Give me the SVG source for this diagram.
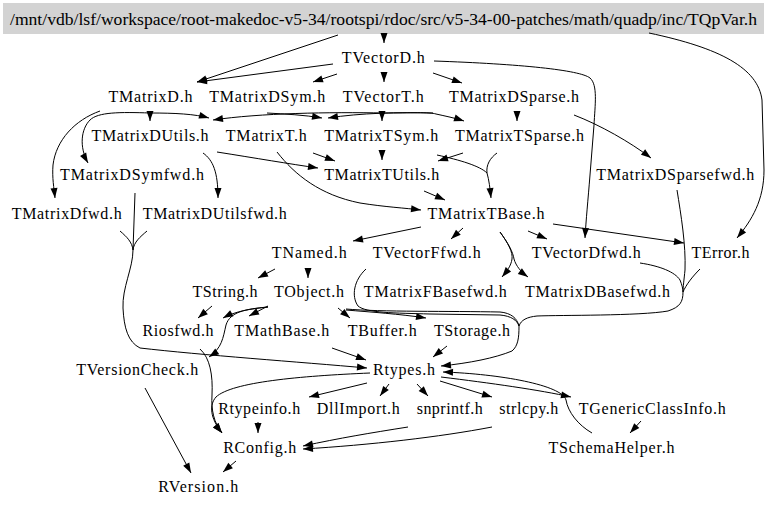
<svg xmlns="http://www.w3.org/2000/svg" width="768" height="510" viewBox="0 0 768 510">
<style>
text{font-family:"Liberation Serif","Times New Roman",serif;font-size:16px;fill:#000;text-anchor:middle}
.e path{fill:none;stroke:#000;stroke-width:1}
.a{marker-end:url(#ah)}
</style>
<defs>
<marker id="ah" markerUnits="userSpaceOnUse" markerWidth="10" markerHeight="8" refX="10" refY="3.5" orient="auto" overflow="visible">
<path d="M0,0 L10,3.5 L0,7 z" fill="#000"/>
</marker>
</defs>
<rect width="768" height="510" fill="#fff"/>
<g id="n_TQpVar"><rect x="3" y="3" width="761" height="31" fill="#d3d3d3"/><text x="383.5" y="25" textLength="747" lengthAdjust="spacingAndGlyphs">/mnt/vdb/lsf/workspace/root-makedoc-v5-34/rootspi/rdoc/src/v5-34-00-patches/math/quadp/inc/TQpVar.h</text></g>
<g id="n_TVectorD"><text x="383.3" y="63" textLength="83">TVectorD.h</text></g>
<g id="n_TMatrixD"><text x="150.5" y="102" textLength="84">TMatrixD.h</text></g>
<g id="n_TMatrixDSym"><text x="267.2" y="102" textLength="116">TMatrixDSym.h</text></g>
<g id="n_TVectorT"><text x="383.3" y="102" textLength="81">TVectorT.h</text></g>
<g id="n_TMatrixDSparse"><text x="514" y="102" textLength="130">TMatrixDSparse.h</text></g>
<g id="n_TMatrixDUtils"><text x="150" y="141" textLength="117">TMatrixDUtils.h</text></g>
<g id="n_TMatrixT"><text x="266.3" y="141" textLength="81">TMatrixT.h</text></g>
<g id="n_TMatrixTSym"><text x="381.2" y="141" textLength="114">TMatrixTSym.h</text></g>
<g id="n_TMatrixTSparse"><text x="519.5" y="141" textLength="129">TMatrixTSparse.h</text></g>
<g id="n_TMatrixDSymfwd"><text x="132" y="180" textLength="144">TMatrixDSymfwd.h</text></g>
<g id="n_TMatrixTUtils"><text x="381.7" y="180" textLength="115">TMatrixTUtils.h</text></g>
<g id="n_TMatrixDSparsefwd"><text x="675.2" y="180" textLength="158">TMatrixDSparsefwd.h</text></g>
<g id="n_TMatrixDfwd"><text x="66.7" y="219" textLength="110">TMatrixDfwd.h</text></g>
<g id="n_TMatrixDUtilsfwd"><text x="214.7" y="219" textLength="144">TMatrixDUtilsfwd.h</text></g>
<g id="n_TMatrixTBase"><text x="486" y="219" textLength="117">TMatrixTBase.h</text></g>
<g id="n_TNamed"><text x="309.2" y="258" textLength="75">TNamed.h</text></g>
<g id="n_TVectorFfwd"><text x="426.7" y="258" textLength="108">TVectorFfwd.h</text></g>
<g id="n_TVectorDfwd"><text x="586.2" y="258" textLength="109">TVectorDfwd.h</text></g>
<g id="n_TError"><text x="720.5" y="258" textLength="58">TError.h</text></g>
<g id="n_TString"><text x="225" y="297" textLength="65">TString.h</text></g>
<g id="n_TObject"><text x="309" y="297" textLength="70">TObject.h</text></g>
<g id="n_TMatrixFBasefwd"><text x="435.3" y="297" textLength="143">TMatrixFBasefwd.h</text></g>
<g id="n_TMatrixDBasefwd"><text x="597.5" y="297" textLength="145">TMatrixDBasefwd.h</text></g>
<g id="n_Riosfwd"><text x="178" y="336" textLength="71">Riosfwd.h</text></g>
<g id="n_TMathBase"><text x="281.8" y="336" textLength="95">TMathBase.h</text></g>
<g id="n_TBuffer"><text x="382.2" y="336" textLength="69">TBuffer.h</text></g>
<g id="n_TStorage"><text x="472" y="336" textLength="76">TStorage.h</text></g>
<g id="n_TVersionCheck"><text x="137.2" y="375" textLength="122">TVersionCheck.h</text></g>
<g id="n_Rtypes"><text x="404" y="375" textLength="62">Rtypes.h</text></g>
<g id="n_Rtypeinfo"><text x="259.2" y="414" textLength="82">Rtypeinfo.h</text></g>
<g id="n_DllImport"><text x="358.3" y="414" textLength="83">DllImport.h</text></g>
<g id="n_snprintf"><text x="449.7" y="414" textLength="66">snprintf.h</text></g>
<g id="n_strlcpy"><text x="528.8" y="414" textLength="59">strlcpy.h</text></g>
<g id="n_TGenericClassInfo"><text x="652.3" y="414" textLength="147">TGenericClassInfo.h</text></g>
<g id="n_RConfig"><text x="259.7" y="453" textLength="73">RConfig.h</text></g>
<g id="n_TSchemaHelper"><text x="611.5" y="453" textLength="126">TSchemaHelper.h</text></g>
<g id="n_RVersion"><text x="198.3" y="492" textLength="80">RVersion.h</text></g>
<g id="edges" class="e">
<path class="a" d="M384,34 L384,43"/>
<path class="a" d="M338,35 L197,82"/>
<path class="a" d="M649,33 C720,48 758,68 762,100 L764,170 C764,200 752,220 737,238"/>
<path class="a" d="M333,64 L197,82"/>
<path class="a" d="M337,74 L313,82"/>
<path class="a" d="M384,72 L384,82"/>
<path class="a" d="M433,73 L462,83"/>
<path class="a" d="M434,61 C520,64 580,70 590,78 C598,85 595,105 594,125 L590,175 C588,200 586,220 585,238"/>
<path class="a" d="M150,111 L150,121"/>
<path class="a" d="M150,113 C120,112 98,112 90,120 C81,129 79,147 88,163"/>
<path class="a" d="M150,113 C175,113 195,114 209,118"/>
<path class="a" d="M100,111 C75,120 56,140 53,165 C52,178 54,188 55,198"/>
<path class="a" d="M384,113 C330,112 260,113 213,120"/>
<path class="a" d="M267,113 C285,114 305,115 322,118"/>
<path class="a" d="M433,113 C400,112 360,113 328,118"/>
<path class="a" d="M384,113 C410,113 430,112 436,114 C445,116 455,118 464,121"/>
<path class="a" d="M382,111 L382,121"/>
<path class="a" d="M517,111 L517,121"/>
<path class="a" d="M574,115 C600,125 630,142 651,158"/>
<path class="a" d="M217,152 C255,158 290,164 318,168"/>
<path class="a" d="M313,153 L335,161"/>
<path class="a" d="M382,151 L382,160"/>
<path class="a" d="M463,153 L438,161"/>
<path class="a" d="M437,155 C460,160 480,166 487,173 C489,180 490,188 491,198"/>
<path d="M497,153 C490,158 486,165 487,173"/>
<path class="a" d="M277,152 C295,175 320,195 360,203 C385,207 405,208 421,210"/>
<path class="a" d="M203,153 C213,160 218,172 218,198"/>
<path class="a" d="M424,191 L445,200"/>
<path d="M135,193 L133,250"/>
<path d="M120,231 C127,237 132,242 133,250"/>
<path d="M147,231 C140,237 134,242 133,250"/>
<path class="a" d="M133,250 C133,268 122,288 123,308 C124,328 128,342 140,348 C200,355 300,362 367,368"/>
<path class="a" d="M421,227 L353,241"/>
<path class="a" d="M463,228 L451,239"/>
<path class="a" d="M500,232 C508,243 513,252 512,259 C511,266 507,271 502,277"/>
<path class="a" d="M500,232 C508,243 513,252 514,259 C516,266 521,272 528,277"/>
<path class="a" d="M528,231 L547,239"/>
<path class="a" d="M553,224 L684,243"/>
<path d="M677,190 C681,215 686,245 685,270 C684,280 683,287 683,292"/>
<path d="M640,263 C660,266 675,272 680,280 C682,285 683,289 683,292"/>
<path d="M700,269 C692,277 686,285 683,292"/>
<path d="M683,292 C683,302 680,307 668,311 C640,316 560,315 537,316 C527,317 521,320 519,326"/>
<path d="M366,269 C354,280 351,296 358,306 C366,313 395,313 430,314 L500,315 C511,316 517,320 519,326"/>
<path d="M346,309 C380,312 450,311 500,312 C511,313 517,318 519,326"/>
<path class="a" d="M346,310 C370,312 400,314 426,318"/>
<path class="a" d="M519,326 C519,338 518,346 512,351 C495,358 470,363 441,366"/>
<path class="a" d="M275,269 L258,278"/>
<path class="a" d="M308,269 L308,278"/>
<path class="a" d="M212,306 L198,318"/>
<path class="a" d="M268,307 C250,309 236,311 223,318"/>
<path class="a" d="M268,307 C245,309 230,312 226,325 C223,338 222,348 209,357"/>
<path class="a" d="M268,306 L249,316"/>
<path class="a" d="M338,308 L350,318"/>
<path class="a" d="M332,348 L366,360"/>
<path class="a" d="M447,346 L433,357"/>
<path class="a" d="M200,349 C210,358 213,375 212,395 C211,410 214,423 222,433"/>
<path class="a" d="M370,373 C300,376 232,382 216,397 C209,405 210,418 222,433"/>
<path class="a" d="M367,383 L309,397"/>
<path class="a" d="M389,384 L380,396"/>
<path class="a" d="M417,384 L428,396"/>
<path class="a" d="M440,381 L492,397"/>
<path class="a" d="M441,377 C490,383 540,390 571,397"/>
<path class="a" d="M592,433 C578,425 568,412 566,400 C562,385 500,374 443,372"/>
<path class="a" d="M641,421 L630,433"/>
<path class="a" d="M258,422 L258,433"/>
<path class="a" d="M408,427 C370,433 340,438 303,446"/>
<path class="a" d="M492,427 C440,437 370,445 303,449"/>
<path class="a" d="M145,388 L191,473"/>
<path class="a" d="M236,461 L223,472"/>
</g>
</svg>
